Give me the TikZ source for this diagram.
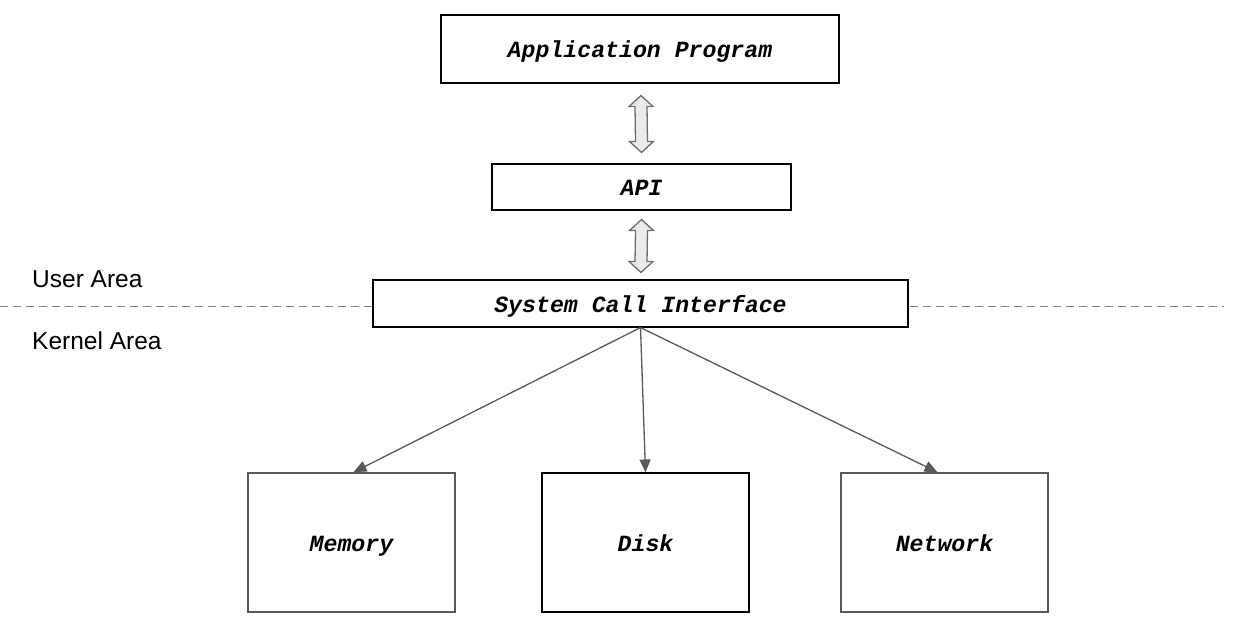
\documentclass[tikz,border=0pt]{standalone}
\usepackage{fontspec}
\setmainfont{Liberation Sans}
\newfontfamily\codefont{Liberation Mono}
\usetikzlibrary{arrows.meta,calc}
\definecolor{conn}{HTML}{595959}
\definecolor{dashgray}{HTML}{7F7F7F}
\definecolor{dblfill}{HTML}{EBEBEB}
\definecolor{dblline}{HTML}{6E6E6E}
\tikzset{
  box/.style={draw=black, line width=1.1pt, fill=white, inner sep=0pt,
    text height=21pt, text depth=3.5pt,
    font=\codefont\bfseries\itshape\fontsize{23.2}{28}\selectfont},
  graybox/.style={box, draw=conn, line width=1.6pt},
  conline/.style={draw=conn, line width=1.3pt, -{Triangle[length=13pt,width=11pt]}},
  divider/.style={draw=dashgray, line width=1.8pt, dash pattern=on 8pt off 5pt},
  dbl/.style={draw=dblline, fill=dblfill, line width=1.3pt, line join=miter},
  area/.style={font=\fontsize{24.5}{29}\selectfont, anchor=base west, inner sep=0pt}
}
\newcommand\dblarrow[2]{%
  \draw[dbl] (#1) -- ++(12,11) -- ++(-6,0) -- ($(#2)+(6,-11)$) -- ++(6,0)
    -- (#2) -- ++(-12,-11) -- ++(6,0) -- ($(#1)+(-6,11)$) -- ++(-6,0) -- cycle;}
\begin{document}
\begin{tikzpicture}[x=1pt,y=-1pt]
\useasboundingbox (0,0) rectangle (1246,638);
% dashed divider
\coordinate (dl) at (0,306.5);
\coordinate (dr) at (1224,306.5);
\draw[divider] (dl) -- (dr);
% boxes
\node[box, minimum width=398pt, minimum height=68pt] (app) at (640,49) {Application Program};
\node[box, minimum width=299pt, minimum height=46pt] (api) at (641.5,187) {API};
\node[box, minimum width=535pt, minimum height=47pt] (sci) at (640.5,303.5) {System Call Interface};
\node[graybox, minimum width=207pt, minimum height=139pt] (mem) at (351.5,542.5) {Memory};
\node[box, minimum width=207pt, minimum height=139pt] (disk) at (645.5,542.5) {Disk};
\node[graybox, minimum width=207pt, minimum height=139pt] (net) at (944.5,542.5) {Network};
% area labels
\node[area] (user) at (32,287) {User Area};
\node[area] (kernel) at (32,349) {Kernel Area};
% double arrows
\coordinate (a1) at ($(app.south)+(1,12)$);
\coordinate (a2) at ($(api.north)+(0,-11)$);
\coordinate (b1) at ($(api.south)+(0,9)$);
\coordinate (b2) at ($(sci.north)+(0.5,-7)$);
\dblarrow{a1}{a2}
\dblarrow{b1}{b2}
% connectors
\coordinate (src) at ($(sci.south)+(0,0)$);
\draw[conline] (src) -- ($(mem.north)+(2,0)$);
\draw[conline] (src) -- (disk.north);
\draw[conline] (src) -- ($(net.north)+(-7,0)$);
\end{tikzpicture}
\end{document}
